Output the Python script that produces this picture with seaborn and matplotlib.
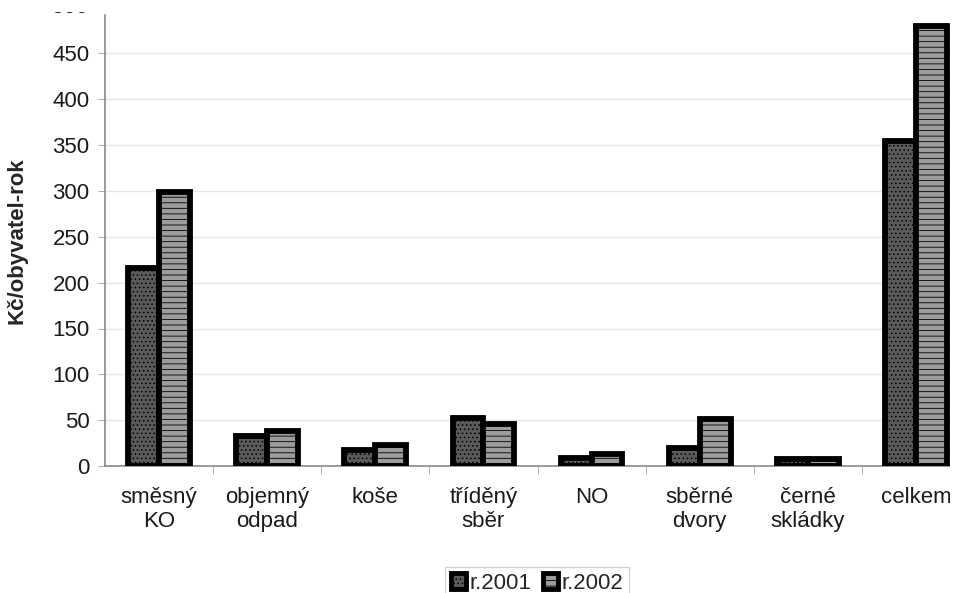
import pandas as pd
import matplotlib.pyplot as plt
import matplotlib.transforms as mtransforms
from matplotlib.patches import Rectangle
import seaborn as sns

categories = ["směsný\nKO", "objemný\nodpad", "koše", "tříděný\nsběr", "NO",
              "sběrné\ndvory", "černé\nskládky", "celkem"]
years = ["r.2001", "r.2002"]
values_2001 = [216, 33, 17, 52, 9, 20, 8, 355]
values_2002 = [299, 38, 23, 46, 13, 51, 8, 480]
y_ticks = [0, 50, 100, 150, 200, 250, 300, 350, 400, 450]

df = pd.DataFrame({
    "Kategorie": categories * 2,
    "Hodnota": values_2001 + values_2002,
    "Rok": [years[0]] * len(categories) + [years[1]] * len(categories),
})

sns.set_style("white")
plt.rcParams["font.family"] = ["Liberation Sans", "DejaVu Sans"]
plt.rcParams["hatch.linewidth"] = 0.6

W, H = 963, 593
FS = 16
fig = plt.figure(figsize=(W / 100, H / 100), dpi=100)
ax = fig.add_axes([105 / W, 1 - 466 / H, 865 / W, 451 / H])

palette = {"r.2001": "#5a5a5a", "r.2002": "#9c9c9c"}
sns.barplot(data=df, x="Kategorie", y="Hodnota", hue="Rok", palette=palette,
            width=0.57, gap=0, edgecolor="black", linewidth=4.2,
            saturation=1, ax=ax, zorder=3)

hatches = {"r.2001": "....", "r.2002": "---"}
for container, yr in zip(ax.containers, years):
    for bar in container:
        bar.set_hatch(hatches[yr])
        bar.set_joinstyle("miter")

ax.set_ylim(0, 492)
ax.set_xlim(-0.5, len(categories) - 0.5)
ax.set_yticks(y_ticks)
ax.yaxis.grid(True, color="#e6e6e6", linewidth=1, zorder=0)
ax.set_axisbelow(True)

for s in ["top", "right"]:
    ax.spines[s].set_visible(False)
for s in ["left", "bottom"]:
    ax.spines[s].set_color("#8a8a8a")
    ax.spines[s].set_linewidth(1.2)

ax.tick_params(axis="y", which="major", length=5, color="#b0b0b0",
               labelsize=FS, pad=6, left=True, labelcolor="#1a1a1a")
ax.tick_params(axis="x", which="major", length=0, labelsize=FS, pad=15,
               labelcolor="#1a1a1a")
ax.set_xticks([i + 0.5 for i in range(len(categories) - 1)], minor=True)
ax.tick_params(axis="x", which="minor", length=6, color="#a0a0a0",
               bottom=True, direction="out")

# the source picture is cropped: "500" at the top and "celkem" at the right are cut
trans = mtransforms.blended_transform_factory(ax.transAxes, ax.transData)
ax.text(-0.019, 500, "500", transform=trans, ha="right", va="center",
        fontsize=FS, color="#1a1a1a", clip_on=False)
fig.patches.append(Rectangle((0, 1 - 12 / H), 1, 12 / H, transform=fig.transFigure,
                             facecolor="white", edgecolor="none", zorder=10))
fig.patches.append(Rectangle((950 / W, 0), 13 / W, 1, transform=fig.transFigure,
                             facecolor="white", edgecolor="none", zorder=10))

ax.set_xlabel("")
ax.set_ylabel("Kč/obyvatel-rok", fontsize=FS, fontweight="bold", labelpad=18)

handles, labels = ax.get_legend_handles_labels()
for h, yr in zip(handles, years):
    h.set_hatch(hatches[yr])
    h.set_linewidth(3.5)
ax.legend(handles, labels, loc="upper center", ncol=2,
          bbox_to_anchor=(537 / W, 1 - 567 / H), bbox_transform=fig.transFigure,
          fontsize=FS, frameon=True, fancybox=False, edgecolor="#c8c8c8",
          handlelength=0.7, handleheight=0.7, handletextpad=0.15,
          columnspacing=0.5, borderpad=0.25, borderaxespad=0)

fig.savefig("out.png", dpi=100)
